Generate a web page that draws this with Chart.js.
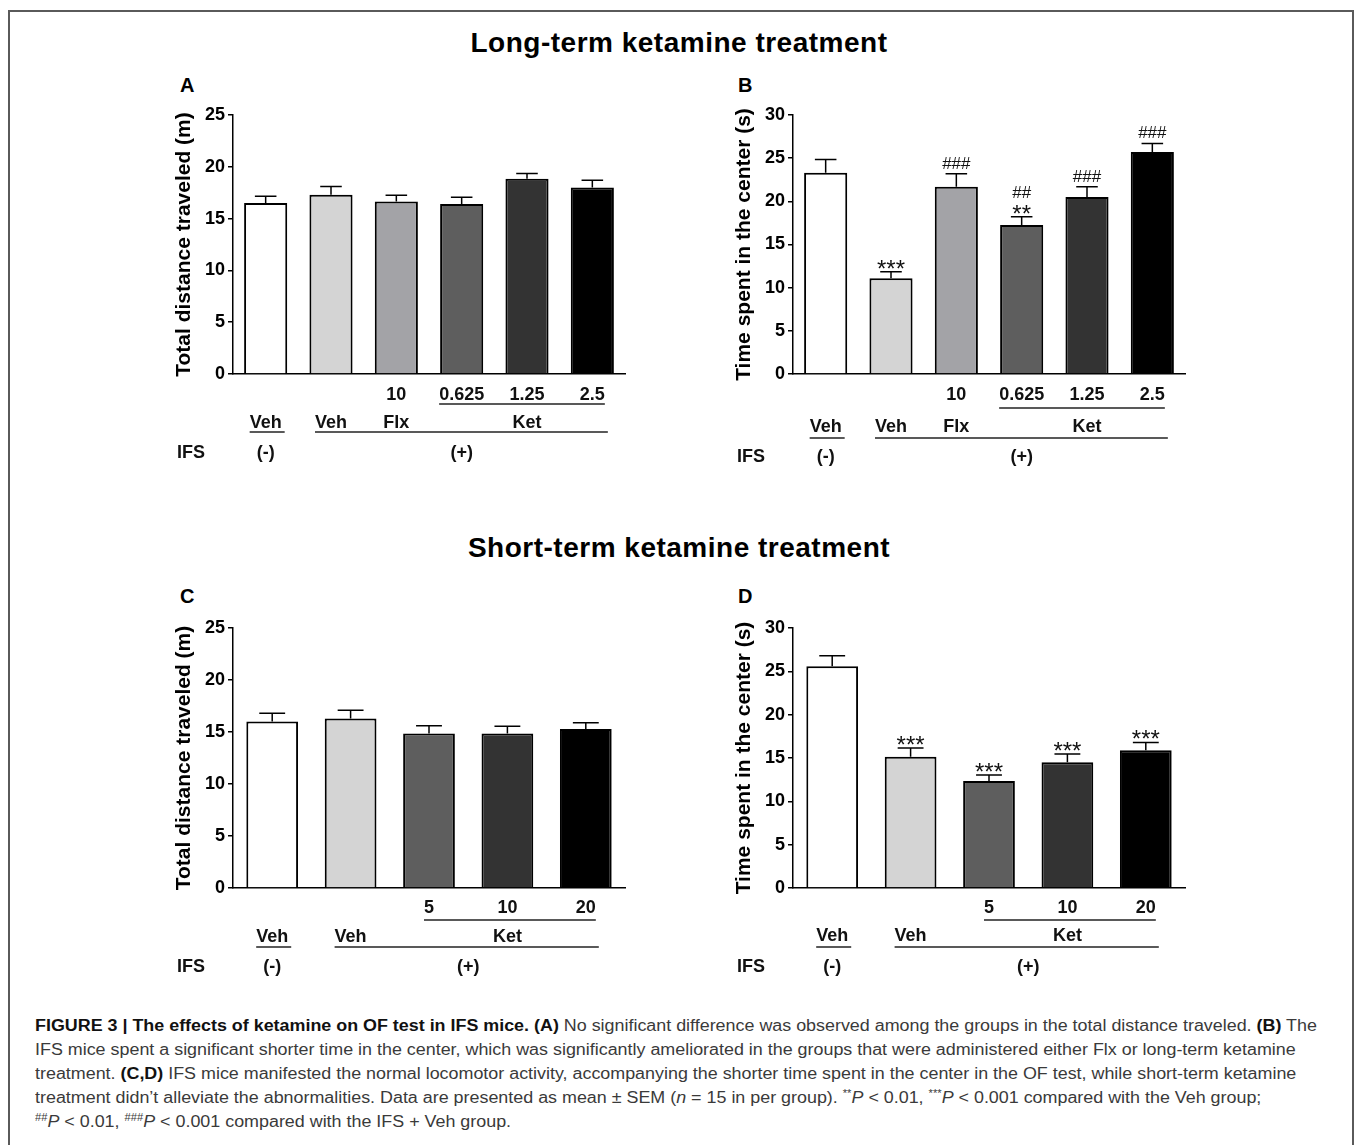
<!DOCTYPE html>
<html>
<head>
<meta charset="utf-8">
<script src="https://cdn.jsdelivr.net/npm/chart.js@4.4.1/dist/chart.umd.min.js"></script>
<style>
  body { margin: 0; background: #fff; width: 1356px; height: 1145px; overflow: hidden; position: relative;
         font-family: "Liberation Sans", Arial, sans-serif; }
  .frame { position: absolute; left: 8px; top: 10px; width: 1342px; height: 1200px;
           border: 2px solid #5a5a5a; border-bottom: none; }
  .title { position: absolute; left: 0; width: 1358px; text-align: center; font-weight: bold;
           font-size: 28px; line-height: 32px; letter-spacing: 0.5px; color: #000; }
  .letter { position: absolute; font-weight: bold; font-size: 20px; line-height: 20px; color: #000; }
  canvas { position: absolute; }
  .caption { position: absolute; left: 35px; top: 1014px; font-size: 16px; line-height: 24px;
             color: #3a3a3a; white-space: nowrap; transform: scaleX(1.118); transform-origin: 0 0; }
  .caption b { color: #111; }
  .caption sup { font-size: 10px; line-height: 0; vertical-align: 6px; }
</style>
</head>
<body>
<div class="frame"></div>
<div class="title" style="top:27px">Long-term ketamine treatment</div>
<div class="title" style="top:532px">Short-term ketamine treatment</div>
<div class="letter" style="left:180px;top:75px">A</div>
<div class="letter" style="left:738px;top:75px">B</div>
<div class="letter" style="left:180px;top:586px">C</div>
<div class="letter" style="left:738px;top:586px">D</div>

<canvas id="chartA" width="510" height="380" style="left:130px;top:100px"></canvas>
<canvas id="chartB" width="510" height="380" style="left:690px;top:100px"></canvas>
<canvas id="chartC" width="510" height="380" style="left:130px;top:610px"></canvas>
<canvas id="chartD" width="510" height="380" style="left:690px;top:610px"></canvas>

<div class="caption"><b>FIGURE 3 | The effects of ketamine on OF test in IFS mice. (A)</b> No significant difference was observed among the groups in the total distance traveled. <b>(B)</b> The<br>IFS mice spent a significant shorter time in the center, which was significantly ameliorated in the groups that were administered either Flx or long-term ketamine<br>treatment. <b>(C,D)</b> IFS mice manifested the normal locomotor activity, accompanying the shorter time spent in the center in the OF test, while short-term ketamine<br>treatment didn’t alleviate the abnormalities. Data are presented as mean ± SEM (<i>n</i> = 15 in per group). <sup>**</sup><i>P</i> &lt; 0.01, <sup>***</sup><i>P</i> &lt; 0.001 compared with the Veh group;<br><sup>##</sup><i>P</i> &lt; 0.01, <sup>###</sup><i>P</i> &lt; 0.001 compared with the IFS + Veh group.</div>

<script>
// long-term groups (A, B)
const groupsLong = ['Veh (-)', 'Veh (+)', 'Flx 10', 'Ket 0.625', 'Ket 1.25', 'Ket 2.5'];
const colorsLong = ['#ffffff', '#d4d4d4', '#a3a3a7', '#5e5e5e', '#333333', '#000000'];
const distLong = [16.5, 17.3, 16.65, 16.4, 18.85, 18.0];
const distLongSem = [0.65, 0.8, 0.6, 0.65, 0.5, 0.7];
const timeLong = [23.3, 11.1, 21.7, 17.25, 20.5, 25.7];
const timeLongSem = [1.55, 0.75, 1.5, 0.95, 1.2, 1.0];
const starsTimeLong = ['', '***', '', '**', '', ''];
const hashTimeLong = ['', '', '###', '##', '###', '###'];
const doseLong = ['', '', '10', '0.625', '1.25', '2.5'];
const drugLong = [['Veh', 0, 0], ['Veh', 1, 1], ['Flx', 2, 2], ['Ket', 3, 5]];
const ifsLong = [['(-)', 0, 0], ['(+)', 1, 5]];

// short-term groups (C, D)
const groupsShort = ['Veh (-)', 'Veh (+)', 'Ket 5', 'Ket 10', 'Ket 20'];
const colorsShort = ['#ffffff', '#d4d4d4', '#5e5e5e', '#333333', '#000000'];
const distShort = [16.0, 16.3, 14.85, 14.85, 15.3];
const distShortSem = [0.8, 0.8, 0.75, 0.7, 0.6];
const timeShort = [25.6, 15.15, 12.35, 14.5, 15.9];
const timeShortSem = [1.2, 1.0, 0.7, 0.95, 0.9];
const starsTimeShort = ['', '***', '***', '***', '***'];
const doseShort = ['', '', '5', '10', '20'];
const drugShort = [['Veh', 0, 0], ['Veh', 1, 1], ['Ket', 2, 4]];
const ifsShort = [['(-)', 0, 0], ['(+)', 1, 4]];

const distTicks = [0, 5, 10, 15, 20, 25];
const timeTicks = [0, 5, 10, 15, 20, 25, 30];

const FONT = '"Liberation Sans", Arial, sans-serif';
Chart.defaults.font.family = FONT;
Chart.defaults.font.weight = 'bold';
Chart.defaults.color = '#000';

// error bars, significance marks and the group label rows under the x axis
const panelExtras = {
  id: 'panelExtras',
  afterDatasetsDraw(chart, args, o) {
    const ctx = chart.ctx, y = chart.scales.y;
    const bars = chart.getDatasetMeta(0).data;
    ctx.save();
    ctx.strokeStyle = '#000';
    ctx.lineWidth = 1.5;
    ctx.fillStyle = '#111';
    ctx.textAlign = 'center';
    ctx.textBaseline = 'alphabetic';
    bars.forEach((bar, i) => {
      const top = y.getPixelForValue(o.values[i] + o.sem[i]);
      const half = bar.width / 4;
      ctx.beginPath();
      ctx.moveTo(bar.x, bar.y);
      ctx.lineTo(bar.x, top);
      ctx.moveTo(bar.x - half, top);
      ctx.lineTo(bar.x + half, top);
      ctx.stroke();
      const stars = o.stars ? o.stars[i] : '';
      const hash = o.hash ? o.hash[i] : '';
      const base = top + 5;
      if (stars) {
        ctx.font = '24px ' + FONT;
        ctx.fillText(stars, bar.x, base);
      }
      if (hash) {
        ctx.font = '17px ' + FONT;
        ctx.fillText(hash, bar.x, stars ? base - 24 : top - 5);
      }
    });
    ctx.restore();
  },
  afterDraw(chart, args, o) {
    const ctx = chart.ctx, x = chart.scales.x, b = chart.chartArea.bottom;
    const off = o.rows;
    const cx = i => x.getPixelForValue(i);
    const left = [], right = [];
    const put = (t, px, py, i0, i1) => {
      const w = ctx.measureText(t).width;
      ctx.fillText(t, px, py);
      for (let i = i0; i <= i1; i++) {
        left[i] = Math.min(left[i] ?? Infinity, px - w / 2);
        right[i] = Math.max(right[i] ?? -Infinity, px + w / 2);
      }
      return [px - w / 2, px + w / 2];
    };
    const line = (x0, x1, py) => {
      ctx.beginPath();
      ctx.moveTo(x0, py);
      ctx.lineTo(x1, py);
      ctx.stroke();
    };
    ctx.save();
    ctx.font = 'bold 18px ' + FONT;
    ctx.fillStyle = '#111';
    ctx.strokeStyle = '#222';
    ctx.lineWidth = 1.5;
    ctx.textAlign = 'center';
    ctx.textBaseline = 'middle';
    const doseExt = [];
    o.dose.forEach((t, i) => { if (t) doseExt[i] = put(t, cx(i), b + off[0], i, i); });
    o.drug.forEach(([t, i0, i1]) => {
      put(t, (cx(i0) + cx(i1)) / 2, b + off[2], i0, i1);
      if (i1 > i0) line(doseExt[i0][0], doseExt[i1][1], b + off[1]);
    });
    o.ifs.forEach(([t, i0, i1]) => {
      let l = Infinity, r = -Infinity;
      for (let i = i0; i <= i1; i++) { l = Math.min(l, left[i]); r = Math.max(r, right[i]); }
      line(l, r + 3, b + off[3]);
      ctx.fillText(t, (cx(i0) + cx(i1)) / 2, b + off[4]);
    });
    ctx.textAlign = 'left';
    ctx.fillText('IFS', chart.chartArea.left - 56, b + off[4]);
    ctx.restore();
  }
};

function makePanel(id, labels, colors, values, sem, ticks, title, extras, top, axisH) {
  return new Chart(document.getElementById(id), {
    type: 'bar',
    data: {
      labels: labels,
      datasets: [{
        data: values,
        backgroundColor: colors,
        borderColor: '#000',
        borderWidth: 2,
        barPercentage: 0.66,
        categoryPercentage: 1
      }]
    },
    options: {
      responsive: false,
      animation: false,
      layout: { padding: { left: 0, right: 15, top: top, bottom: 0 } },
      plugins: {
        legend: { display: false },
        tooltip: { enabled: false },
        panelExtras: Object.assign({ values: values, sem: sem }, extras)
      },
      scales: {
        x: {
          grid: { display: false },
          ticks: { display: false },
          border: { display: true, color: '#000', width: 1.5 },
          afterFit: s => { s.height = axisH; }
        },
        y: {
          min: 0,
          max: ticks[ticks.length - 1],
          afterBuildTicks: s => { s.ticks = ticks.map(v => ({ value: v })); },
          ticks: { font: { size: 18, weight: 'bold', family: FONT }, color: '#000', padding: 3 },
          grid: { drawOnChartArea: false, drawTicks: true, tickLength: 5, color: '#000', lineWidth: 1.5 },
          border: { display: true, color: '#000', width: 1.5 },
          title: { display: true, text: title, color: '#000',
                   font: { size: 21, weight: 'bold', family: FONT }, padding: { top: 42, bottom: 0 } },
          afterFit: s => { s.width = 103; }
        }
      }
    },
    plugins: [panelExtras]
  });
}

makePanel('chartA', groupsLong, colorsLong, distLong, distLongSem, distTicks,
  'Total distance traveled (m)',
  { dose: doseLong, drug: drugLong, ifs: ifsLong, rows: [21, 30, 49, 58, 79] }, 15, 106);
makePanel('chartB', groupsLong, colorsLong, timeLong, timeLongSem, timeTicks,
  'Time spent in the center (s)',
  { stars: starsTimeLong, hash: hashTimeLong, dose: doseLong, drug: drugLong, ifs: ifsLong,
    rows: [21, 34, 53, 64, 83] }, 15, 106);
makePanel('chartC', groupsShort, colorsShort, distShort, distShortSem, distTicks,
  'Total distance traveled (m)',
  { dose: doseShort, drug: drugShort, ifs: ifsShort, rows: [20, 32, 49, 59, 79] }, 18, 102);
makePanel('chartD', groupsShort, colorsShort, timeShort, timeShortSem, timeTicks,
  'Time spent in the center (s)',
  { stars: starsTimeShort, dose: doseShort, drug: drugShort, ifs: ifsShort,
    rows: [20, 32, 48, 59, 79] }, 18, 102);
</script>
</body>
</html>
